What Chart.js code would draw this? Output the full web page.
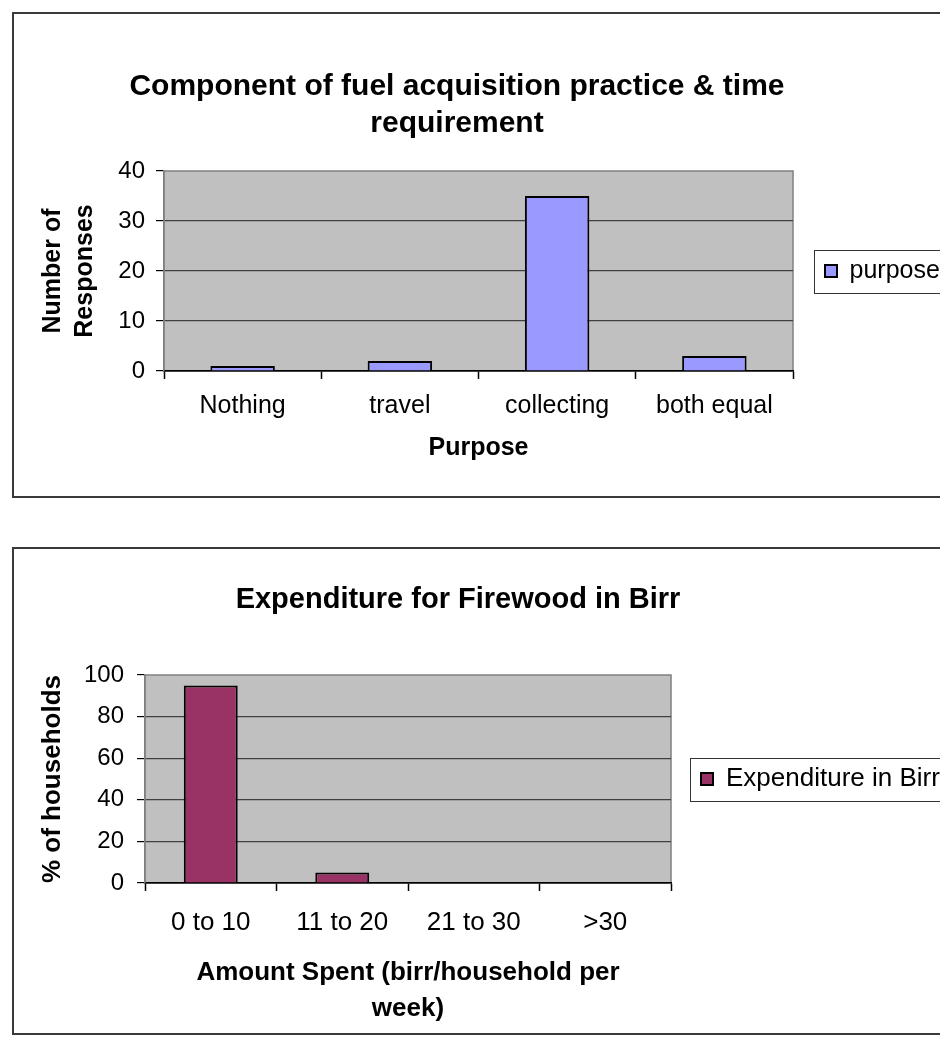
<!DOCTYPE html>
<html>
<head>
<meta charset="utf-8">
<title>Fuel acquisition and firewood expenditure</title>
<script src="https://cdn.jsdelivr.net/npm/chart.js@4.4.1/dist/chart.umd.min.js"></script>
<style>
  html, body { margin: 0; padding: 0; background: #fff; }
  body { width: 940px; height: 1040px; overflow: hidden; position: relative;
         font-family: Arial, "Liberation Sans", sans-serif; }
  .frame { position: absolute; left: 12px; width: 960px; border: 2px solid #3a3a3a; }
  .frame canvas { position: absolute; left: 0; top: 0; }
  .title { position: absolute; left: 0; text-align: center; font-weight: bold;
           line-height: 37px; color: #000; }
</style>
</head>
<body>
<div class="frame" style="top:12px; height:482px">
  <canvas id="purposeChart" width="960" height="482"></canvas>
  <div class="title" style="top:52px; width:886px; font-size:30px">Component of fuel acquisition practice &amp; time<br>requirement</div>
</div>
<div class="frame" style="top:547px; height:484px">
  <canvas id="spendChart" width="960" height="484"></canvas>
  <div class="title" style="top:31px; width:888px; font-size:29px">Expenditure for Firewood in Birr</div>
</div>
<script>
// chart 1: what takes the time when fetching fuel
const purposeLabels = ["Nothing", "travel", "collecting", "both equal"];
const purposeCounts = [1, 2, 35, 3];
const purposeTicks = [0, 10, 20, 30, 40];

// chart 2: weekly spend on firewood
const spendLabels = ["0 to 10", "11 to 20", "21 to 30", ">30"];
const spendShares = [95, 5, 0, 0];
const spendTicks = [0, 20, 40, 60, 80, 100];

Chart.defaults.font.family = 'Arial, "Liberation Sans", sans-serif';
Chart.defaults.color = "#000";

// grey plot area with a thin frame, like the spreadsheet original
const plotBackground = {
  id: "plotBackground",
  beforeDraw(chart) {
    const { ctx, chartArea: a } = chart;
    ctx.save();
    ctx.fillStyle = "#c0c0c0";
    ctx.fillRect(a.left, a.top, a.width, a.height);
    ctx.strokeStyle = "#808080";
    ctx.lineWidth = 1.5;
    ctx.strokeRect(a.left, a.top, a.width, a.height);
    ctx.restore();
  }
};

// box around the legend entry
const legendFrame = {
  id: "legendFrame",
  afterDraw(chart) {
    const box = chart.legend.legendHitBoxes[0];
    if (!box) return;
    const ctx = chart.ctx;
    const mid = box.top + box.height / 2;
    ctx.save();
    ctx.strokeStyle = "#333";
    ctx.lineWidth = 1;
    ctx.strokeRect(Math.round(box.left - 11) + 0.5, Math.round(mid - 21.5) + 0.5, chart.width, 43);
    ctx.restore();
  }
};

// keep the legend column a fixed width so the plot ends where it should
const legendWidth = {
  id: "legendWidth",
  afterInit(chart, args, opts) {
    const legend = chart.legend;
    const fit = legend.fit;
    legend.fit = function () {
      fit.call(this);
      this.width = opts.width;
    };
  }
};

function barChart(id, labels, values, ticks, cfg) {
  const top = ticks[ticks.length - 1];
  return new Chart(document.getElementById(id), {
    type: "bar",
    data: {
      labels: labels,
      datasets: [{
        label: cfg.series,
        data: values,
        backgroundColor: cfg.color,
        borderColor: "#000",
        borderWidth: 2,
        barPercentage: 0.41,
        categoryPercentage: 1
      }]
    },
    options: {
      responsive: false,
      animation: false,
      layout: { padding: { top: cfg.top, left: 0, right: 0, bottom: 0 } },
      scales: {
        x: {
          grid: { offset: true, drawOnChartArea: false, tickLength: 8, tickColor: "#000", tickWidth: 1.5 },
          border: { color: "#000", width: 1.5 },
          ticks: { font: { size: cfg.fontSize }, padding: cfg.xPad, maxRotation: 0, autoSkip: false },
          title: {
            display: true,
            text: cfg.xTitle,
            font: { size: cfg.fontSize, weight: "bold", lineHeight: cfg.xTitleLine },
            padding: { top: 0, bottom: cfg.xTitlePad }
          },
          afterFit: s => { s.height = cfg.xHeight; }
        },
        y: {
          min: ticks[0],
          max: top,
          afterBuildTicks: s => { s.ticks = ticks.map(v => ({ value: v })); },
          grid: {
            color: c => (c.tick && c.tick.value === top) ? "rgba(0,0,0,0)" : "#404040",
            lineWidth: 1.2,
            tickLength: 8,
            tickColor: "#000"
          },
          border: { color: "#808080", width: 1.5 },
          ticks: { font: { size: 24 }, padding: cfg.yPad },
          title: {
            display: true,
            text: cfg.yTitle,
            font: { size: cfg.fontSize, weight: "bold", lineHeight: "32px" },
            padding: { top: 23, bottom: 0 }
          },
          afterFit: s => { s.width = cfg.yWidth; }
        }
      },
      plugins: {
        legend: {
          position: "right",
          fullSize: false,
          labels: { boxWidth: 12, boxHeight: 12, padding: cfg.legendPad, font: { size: cfg.fontSize } }
        },
        legendWidth: { width: cfg.legendWidth },
        tooltip: { enabled: false }
      }
    },
    plugins: [plotBackground, legendFrame, legendWidth]
  });
}

barChart("purposeChart", purposeLabels, purposeCounts, purposeTicks, {
  series: "purpose",
  color: "#9999ff",
  xTitle: "Purpose",
  yTitle: ["Number of", "Responses"],
  fontSize: 25,
  top: 157, yWidth: 150, xHeight: 125,
  legendWidth: 181, legendPad: 32,
  xPad: 12, xTitlePad: 31, xTitleLine: "34px", yPad: 11
});

barChart("spendChart", spendLabels, spendShares, spendTicks, {
  series: "Expenditure in Birr",
  color: "#993366",
  xTitle: ["Amount Spent (birr/household per", "week)"],
  yTitle: "% of households",
  fontSize: 26,
  top: 126, yWidth: 131, xHeight: 150,
  legendWidth: 303, legendPad: 30,
  xPad: 16, xTitlePad: 6, xTitleLine: "36px", yPad: 13
});
</script>
</body>
</html>
